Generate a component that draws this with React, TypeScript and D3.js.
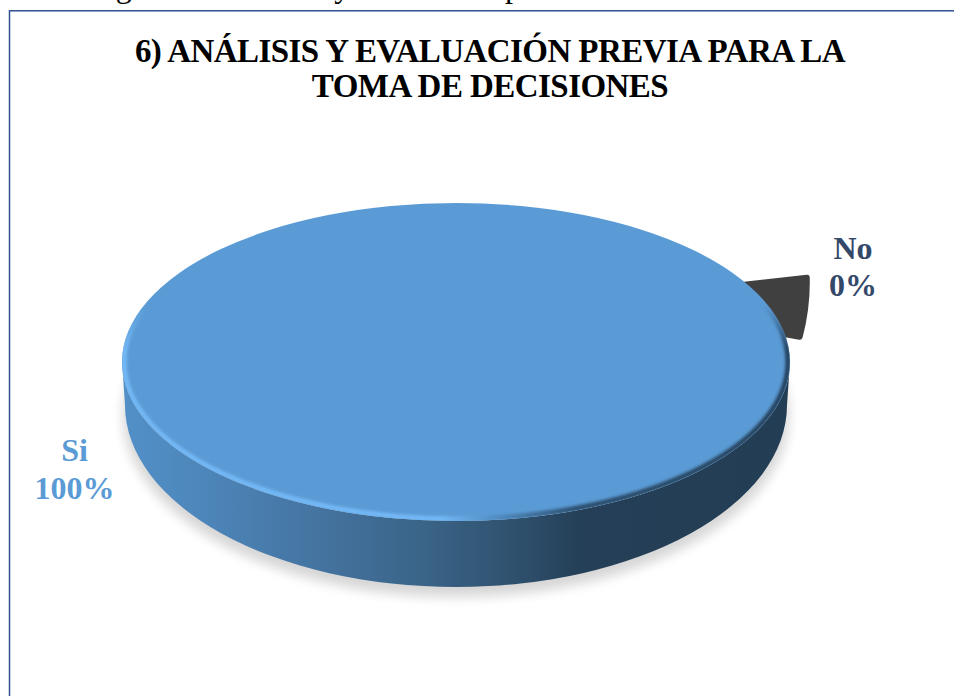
import React from "react";
import * as d3 from "d3";

// Chart content
const categories = ["Si", "No"];
const values = [100, 0];
const percentLabels = ["100%", "0%"];
const titleLines = ["6) ANÁLISIS Y EVALUACIÓN PREVIA PARA LA", "TOMA DE DECISIONES"];
const captionText = "Figura 6.- Análisis y evaluación previa";

// Disc geometry
const cx = 456;
const topCy = 362;
const rx = 334;
const ry = 159;
const bottomCy = 405;
const bottomRx = 331;
const bottomRy = 182;

// A zero share still gets a thin exploded wedge so that it stays visible
const wedgeApex = [600, 301];
const wedgeStart = (83.5 * Math.PI) / 180;
const wedgeMinSweep = (16.5 * Math.PI) / 180;
const wedgeRadius = 206;

const pie = d3.pie<number>().sort(null).startAngle(wedgeStart).endAngle(wedgeStart + 2 * Math.PI);
const slices = pie(values);

const noSlice = slices[1];
const wedgePath = d3.arc()({
  innerRadius: 0,
  outerRadius: wedgeRadius,
  startAngle: noSlice.startAngle,
  endAngle: noSlice.endAngle + wedgeMinSweep,
  cornerRadius: 7,
} as any) as string;

const sidePath =
  `M${cx - rx},${topCy} ` +
  `L${cx - bottomRx},${bottomCy} ` +
  `A${bottomRx},${bottomRy} 0 0 0 ${cx + bottomRx},${bottomCy} ` +
  `L${cx + rx},${topCy} ` +
  `A${rx},${ry} 0 0 1 ${cx - rx},${topCy} Z`;

const sideStops: [number, string][] = [
  [0, "#5290c8"],
  [0.12, "#4d86ba"],
  [0.3, "#44739f"],
  [0.45, "#3a6488"],
  [0.58, "#30526f"],
  [0.69, "#243f57"],
  [1, "#233d54"],
];

const serif = "'Liberation Serif', 'Times New Roman', serif";

export default function App() {
  return (
    <svg
      width={954}
      height={696}
      viewBox="0 0 954 696"
      style={{ position: "absolute", left: 0, top: 0, background: "#fff" }}
    >
      <defs>
        <linearGradient id="sideFill" gradientUnits="userSpaceOnUse" x1={cx - rx} x2={cx + rx} y1={0} y2={0}>
          {sideStops.map(([o, c]) => (
            <stop key={o} offset={o} stopColor={c} />
          ))}
        </linearGradient>
        <linearGradient id="bevelFill" gradientUnits="userSpaceOnUse" x1={cx - rx} x2={cx + rx} y1={0} y2={0}>
          <stop offset={0} stopColor="#74b9f7" />
          <stop offset={0.48} stopColor="#74b9f7" />
          <stop offset={0.56} stopColor="#4f8bc0" />
          <stop offset={0.68} stopColor="#2b4c69" />
          <stop offset={1} stopColor="#24405a" />
        </linearGradient>
        <linearGradient id="bevelFade" gradientUnits="userSpaceOnUse" x1={0} x2={0} y1={305} y2={350}>
          <stop offset={0} stopColor="#000" />
          <stop offset={1} stopColor="#fff" />
        </linearGradient>
        <mask id="bevelMask" maskUnits="userSpaceOnUse" x={0} y={0} width={954} height={696}>
          <rect x={0} y={0} width={954} height={696} fill="url(#bevelFade)" />
        </mask>
        <filter id="softShadow" x="-10%" y="-10%" width="120%" height="120%">
          <feGaussianBlur stdDeviation="6" />
        </filter>
        <filter id="softEdge" filterUnits="userSpaceOnUse" x={0} y={0} width={954} height={696}>
          <feGaussianBlur stdDeviation="1.5" />
        </filter>
        <clipPath id="topClip">
          <ellipse cx={cx} cy={topCy} rx={rx} ry={ry} />
        </clipPath>
      </defs>

      <text x={89} y={-3} fontFamily={serif} fontSize={32} fill="#000">
        {captionText}
      </text>

      <rect x={9.5} y={10.8} width={1000} height={800} fill="#fff" stroke="#2f528f" strokeWidth={1.5} />

      <g fontFamily={serif} fontWeight="bold" fontSize={33} textAnchor="middle" fill="#000" letterSpacing={-0.55}>
        {titleLines.map((line, i) => (
          <text key={line} x={490} y={62 + i * 35}>
            {line}
          </text>
        ))}
      </g>

      {/* Ground shadow */}
      <ellipse cx={cx} cy={bottomCy + 10} rx={bottomRx + 2} ry={bottomRy} fill="#000" opacity={0.16} filter="url(#softShadow)" />

      {/* Exploded zero-share wedge, tucked behind the disc */}
      <path
        d={wedgePath}
        transform={`translate(${wedgeApex[0]},${wedgeApex[1]}) skewX(-5)`}
        fill="#404040"
        stroke="#404040"
        strokeWidth={6}
        strokeLinejoin="round"
      />

      {/* Disc side and top */}
      <path d={sidePath} fill="url(#sideFill)" />
      <ellipse cx={cx} cy={topCy} rx={rx} ry={ry} fill="#5b9bd5" />
      <g clipPath="url(#topClip)">
        <g mask="url(#bevelMask)">
          <ellipse
            cx={cx}
            cy={topCy}
            rx={rx - 2}
            ry={ry - 2}
            fill="none"
            stroke="url(#bevelFill)"
            strokeWidth={5}
            filter="url(#softEdge)"
          />
        </g>
      </g>

      <g fontFamily={serif} fontWeight="bold" fontSize={32} textAnchor="middle">
        <text x={74.5} y={461} fill="#5b9bd5">{categories[0]}</text>
        <text x={74.5} y={499} fill="#5b9bd5">{percentLabels[0]}</text>
        <text x={853} y={259} fill="#34496a">{categories[1]}</text>
        <text x={853} y={296} fill="#34496a">{percentLabels[1]}</text>
      </g>
    </svg>
  );
}
